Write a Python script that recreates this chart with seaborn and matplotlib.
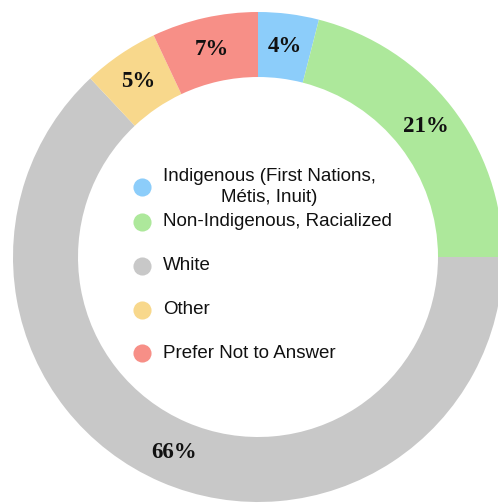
import numpy as np
import matplotlib
matplotlib.use("Agg")
import matplotlib.pyplot as plt
import seaborn as sns

# Data ########################################################################
groups = ["Indigenous (First Nations,\nMétis, Inuit)",
          "Non-Indigenous, Racialized",
          "White",
          "Other",
          "Prefer Not to Answer"]
shares = [4, 21, 63, 5, 7]            # wedge sizes as drawn
pct_labels = ["4%", "21%", "66%", "5%", "7%"]  # labels as printed
colors = ["#8ccdfa", "#ade89b", "#c8c8c8", "#f8d88c", "#f78f87"]

# Style #######################################################################
sns.set_theme(style="white")
plt.rcParams["font.family"] = ["Liberation Sans", "DejaVu Sans"]
palette = sns.color_palette(colors)

fig = plt.figure(figsize=(4.98, 5.04), dpi=100)
ax = fig.add_axes([0, 0, 1, 1])

# Donut (pixel-like coordinates, y up)
cx, cy = 258, 247
r_out, ring = 245, 65

wedges, _ = ax.pie(
    shares,
    colors=palette,
    startangle=90,
    counterclock=False,
    center=(cx, cy),
    radius=r_out,
    wedgeprops=dict(width=ring, edgecolor="none", linewidth=0),
)

# Percent labels in the middle of the ring
r_lab = r_out - ring / 2
for w, lab in zip(wedges, pct_labels):
    ang = np.deg2rad((w.theta1 + w.theta2) / 2)
    ax.text(cx + r_lab * np.cos(ang), cy + r_lab * np.sin(ang), lab,
            ha="center", va="center", fontsize=16.5, fontweight="bold",
            family=["Liberation Serif", "DejaVu Serif"], color="#111111")

# Legend inside the hole
row_y = [317, 282, 238, 194, 151]
for g, c, y in zip(groups, palette, row_y):
    ax.scatter(142, y, s=170, color=c, linewidths=0, zorder=3)
    ax.text(163, y, g, ha="left", va="center", multialignment="center",
            fontsize=13.5, linespacing=1.25, color="#111111")

ax.set_xlim(0, 498)
ax.set_ylim(0, 504)
ax.set_aspect("equal")
ax.axis("off")

plt.savefig("out.png", dpi=100)
